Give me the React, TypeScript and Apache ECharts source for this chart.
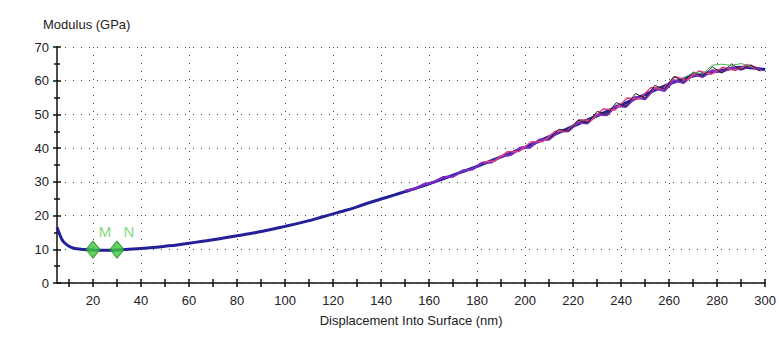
import React, { useEffect, useRef } from 'react';
import * as echarts from 'echarts';

// Displacement into surface (nm) and modulus (GPa) of the averaged curve
const depthMain = [5, 6, 7, 8, 10, 12, 15, 20, 25, 30, 35, 40, 45, 50, 55, 60, 65, 70, 75, 80, 85, 90, 95, 100, 105, 110, 115, 120, 125, 130, 135, 140, 145, 150, 155, 160, 165, 170, 175, 180, 185, 190, 195, 200, 205, 210, 215, 220, 225, 230, 235, 240, 245, 250, 255, 260, 265, 270, 275, 280, 285, 290, 295, 300];
const modulusMain = [16.5, 14.6, 13.0, 12.0, 10.9, 10.3, 10.0, 9.8, 9.7, 9.8, 10.0, 10.2, 10.5, 10.9, 11.3, 11.8, 12.3, 12.8, 13.4, 14.0, 14.6, 15.3, 16.0, 16.8, 17.6, 18.5, 19.5, 20.5, 21.5, 22.6, 23.8, 24.9, 26.0, 27.1, 28.2, 29.4, 30.7, 32.0, 33.3, 34.6, 36.0, 37.4, 38.8, 40.3, 41.8, 43.4, 44.9, 46.5, 48.1, 49.6, 51.2, 52.8, 54.4, 55.9, 57.5, 59.0, 60.3, 61.4, 62.2, 62.8, 63.5, 64.0, 63.8, 63.3];

// Individual test curves (noisy overlays)
const depthPurple = [150, 154, 158, 162, 166, 170, 174, 178, 182, 186, 190, 194, 198, 202, 206, 210, 214, 218, 222, 226, 230, 234, 238, 242, 246, 250, 254, 258, 262, 266, 270, 274, 278, 282, 286, 290, 294, 298];
const modulusPurple = [27.4, 27.9, 29.3, 29.9, 31.4, 31.6, 33.3, 33.7, 35.6, 35.8, 37.6, 38.0, 40.1, 40.2, 42.5, 42.6, 44.9, 45.1, 47.6, 47.4, 50.0, 49.8, 52.6, 52.3, 55.1, 54.6, 57.8, 57.0, 60.1, 59.4, 61.9, 61.2, 63.0, 62.6, 63.9, 63.4, 64.4, 63.2];

const depthRed = [182.5, 187.5, 192.5, 197.5, 202.5, 207.5, 212.5, 217.5, 222.5, 227.5, 232.5, 237.5, 242.5, 247.5, 252.5, 257.5, 262.5, 267.5, 272.5, 277.5, 282.5, 287.5, 292.5, 297.5];
const modulusRed = [35.9, 36.2, 38.9, 39.0, 41.9, 42.0, 45.0, 45.1, 48.4, 48.2, 51.6, 51.3, 54.9, 54.6, 58.0, 57.6, 61.2, 60.2, 62.9, 61.9, 64.0, 63.0, 64.8, 63.0];

const depthBlack = [210, 214, 218, 222, 226, 230, 234, 238, 242, 246, 250, 254, 258, 262, 266, 270, 274, 278, 282, 286, 290, 294, 298];
const modulusBlack = [42.6, 45.6, 45.0, 48.3, 47.5, 50.9, 50.0, 53.5, 52.4, 56.2, 54.8, 58.6, 57.5, 61.3, 59.7, 62.6, 61.3, 64.1, 62.3, 65.0, 63.2, 64.7, 62.8];

const depthGreen = [266, 270, 274, 278, 282, 286, 290, 294];
const modulusGreen = [60.8, 62.4, 62.0, 64.6, 64.9, 64.5, 65.1, 64.2];

// Markers
const markerNames = ['M', 'N'];
const markerDepth = [20, 30];
const markerModulus = [9.9, 9.9];

// Axis ticks
const xTickValues = [10, 20, 30, 40, 50, 60, 70, 80, 90, 100, 110, 120, 130, 140, 150, 160, 170, 180, 190, 200, 210, 220, 230, 240, 250, 260, 270, 280, 290, 300];
const xLabelValues = [20, 40, 60, 80, 100, 120, 140, 160, 180, 200, 220, 240, 260, 280, 300];
const yMin = 0;
const yMax = 70;
const yStep = 10;

const pairs = (xs: number[], ys: number[]) => xs.map((x, i) => [x, ys[i]]);

const FONT = "'Liberation Sans', Arial, sans-serif";

export default function App() {
  const ref = useRef<HTMLDivElement>(null);

  useEffect(() => {
    if (!ref.current) return;
    const chart = echarts.init(ref.current, undefined, { renderer: 'svg' });
    const dotted = { color: '#444', width: 1, type: [1, 7] as any };
    const axisLineStyle = { color: '#111', width: 1.5 };
    chart.setOption({
      animation: false,
      backgroundColor: '#fff',
      title: {
        text: 'Modulus (GPa)',
        left: 38,
        top: 13,
        textStyle: { fontFamily: FONT, fontSize: 13, fontWeight: 'normal', color: '#222' },
      },
      grid: { left: 57, right: 10, top: 47, bottom: 59 },
      xAxis: [
        {
          type: 'value',
          min: 5,
          max: 300,
          position: 'bottom',
          name: 'Displacement Into Surface (nm)',
          nameLocation: 'middle',
          nameGap: 31,
          nameTextStyle: { fontFamily: FONT, fontSize: 13, color: '#222' },
          axisLine: { show: true, onZero: false, lineStyle: axisLineStyle },
          axisTick: { show: true, length: 4, customValues: xTickValues, lineStyle: axisLineStyle },
          axisLabel: { customValues: xLabelValues, margin: 11, fontFamily: FONT, fontSize: 13, color: '#222' },
          splitLine: { show: false },
        },
        {
          type: 'value',
          min: 5,
          max: 300,
          position: 'bottom',
          axisLine: { show: false, onZero: false },
          axisTick: { show: true, inside: true, length: 4, customValues: xTickValues, lineStyle: axisLineStyle },
          axisLabel: { show: false },
          splitLine: { show: false },
        },
        {
          type: 'value',
          min: 5,
          max: 300,
          position: 'bottom',
          axisLine: { show: false, onZero: false },
          axisTick: { show: false, customValues: xLabelValues },
          axisLabel: { show: false },
          splitLine: { show: true, lineStyle: dotted },
        },
      ],
      yAxis: [
        {
          type: 'value',
          min: yMin,
          max: yMax,
          interval: yStep,
          position: 'left',
          axisLine: { show: true, onZero: false, lineStyle: axisLineStyle },
          axisTick: { show: true, length: 4, lineStyle: axisLineStyle },
          minorTick: { show: true, splitNumber: 2, length: 3, lineStyle: axisLineStyle },
          axisLabel: { margin: 8, fontFamily: FONT, fontSize: 13, color: '#222' },
          splitLine: { show: true, lineStyle: dotted },
        },
        {
          type: 'value',
          min: yMin,
          max: yMax,
          interval: yStep,
          position: 'left',
          axisLine: { show: false, onZero: false },
          axisTick: { show: true, inside: true, length: 4, lineStyle: axisLineStyle },
          minorTick: { show: true, splitNumber: 2, length: 3, lineStyle: axisLineStyle },
          axisLabel: { show: false },
          splitLine: { show: false },
        },
      ],
      series: [
        {
          type: 'line',
          data: pairs(depthMain, modulusMain),
          showSymbol: false,
          smooth: 0.3,
          lineStyle: { color: '#23209a', width: 3 },
          z: 2,
        },
        {
          type: 'line',
          data: pairs(depthPurple, modulusPurple),
          showSymbol: false,
          lineStyle: { color: '#7a2cc0', width: 2.5 },
          z: 3,
        },
        {
          type: 'line',
          data: pairs(depthRed, modulusRed),
          showSymbol: false,
          lineStyle: { color: '#e0407a', width: 1.5 },
          z: 3,
        },
        {
          type: 'line',
          data: pairs(depthBlack, modulusBlack),
          showSymbol: false,
          lineStyle: { color: '#222', width: 1 },
          z: 4,
        },
        {
          type: 'line',
          data: pairs(depthGreen, modulusGreen),
          showSymbol: false,
          lineStyle: { color: '#4caf50', width: 1 },
          z: 4,
        },
        {
          type: 'scatter',
          data: markerDepth.map((d, i) => ({ name: markerNames[i], value: [d, markerModulus[i]] })),
          symbol: 'diamond',
          symbolSize: [14, 17],
          itemStyle: { color: '#3cc83c', borderColor: '#1d8a1d', borderWidth: 1 },
          label: {
            show: true,
            position: 'top',
            offset: [12, 3],
            formatter: (p: any) => p.name,
            fontFamily: FONT,
            fontSize: 15,
            color: '#5fd05f',
          },
          z: 10,
        },
      ],
    });
    return () => chart.dispose();
  }, []);

  return (
    <div
      ref={ref}
      style={{ position: 'absolute', left: 0, top: 0, width: 779, height: 342 }}
    />
  );
}
